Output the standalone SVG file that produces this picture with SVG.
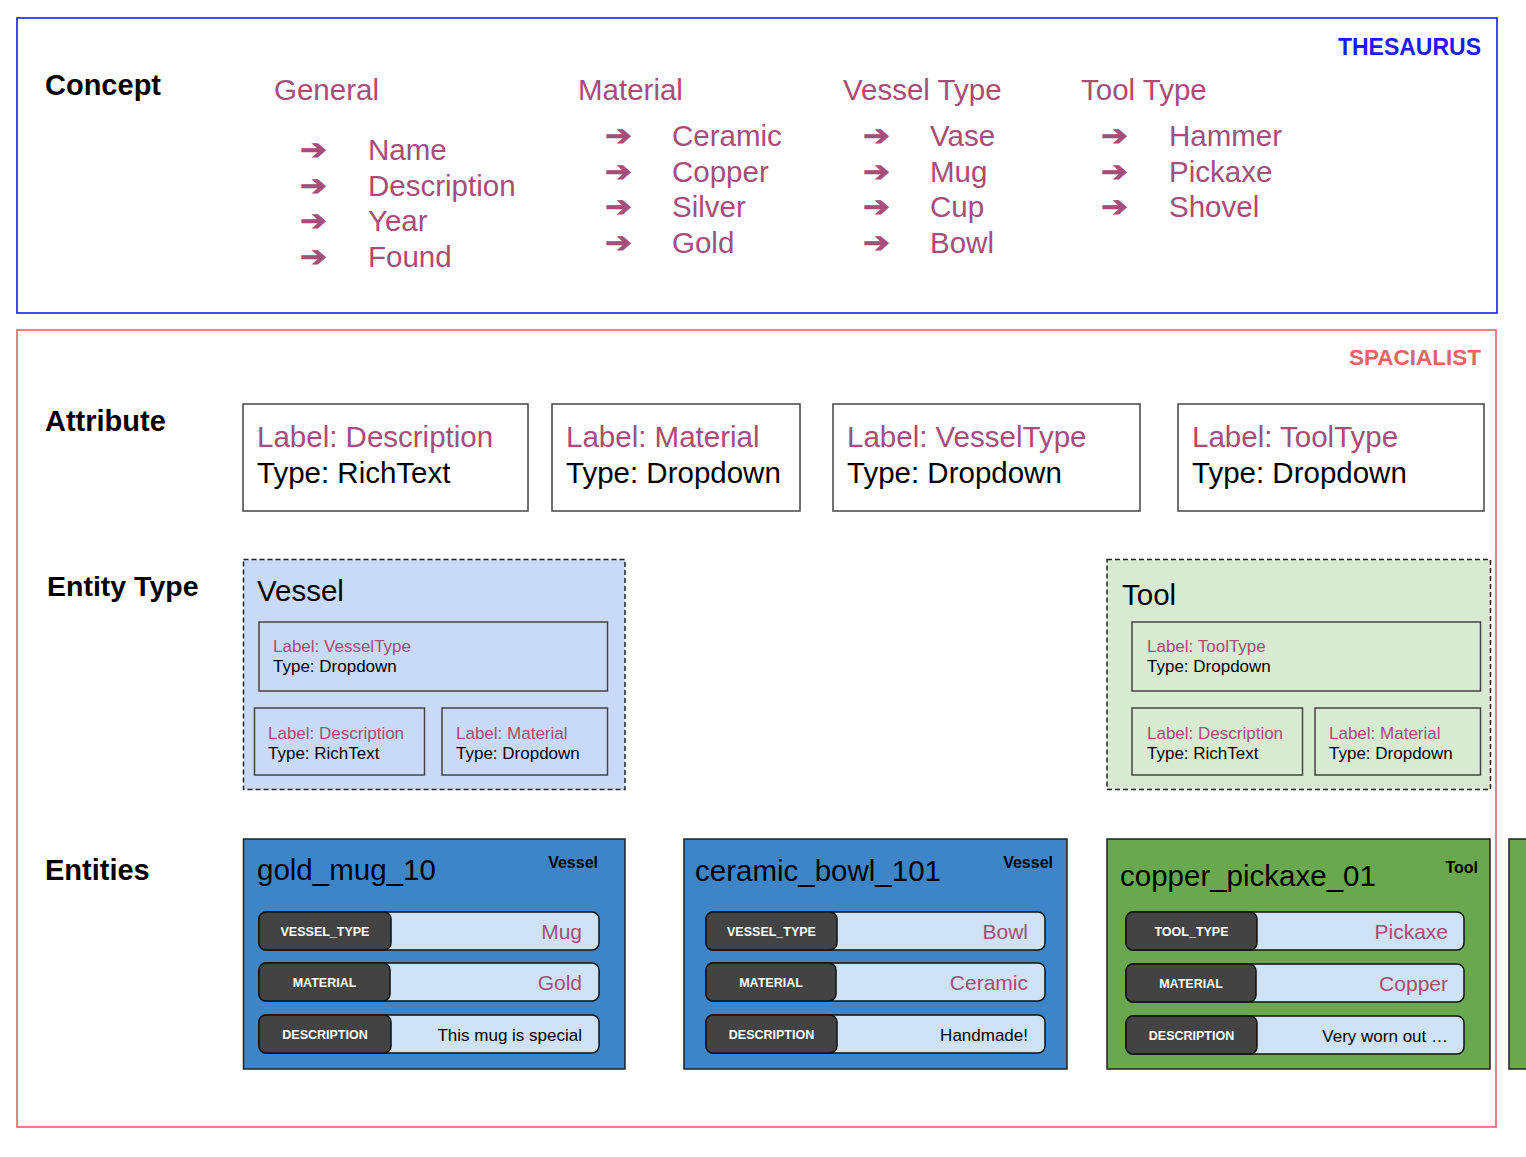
<svg xmlns="http://www.w3.org/2000/svg" width="1526" height="1157" viewBox="0 0 1526 1157">
<style>
text{font-family:"Liberation Sans",Arial,sans-serif}
.hd{font-size:29px;font-weight:bold;fill:#000}
.mg{fill:#a64d79}
.big{font-size:29.5px}
.arr{font-family:"DejaVu Sans",sans-serif;font-size:28px;font-weight:bold;fill:#a64d79;stroke:#a64d79;stroke-width:0.8}
.attr{fill:#fff;stroke:#444;stroke-width:1.5}
.inner{fill:none;stroke:#444;stroke-width:1.5}
.sm{font-size:17px}
.ent{stroke:#222;stroke-width:1.5}
.rowL{fill:#cfe2f3;stroke:#111;stroke-width:1.5}
.rowD{fill:#434343;stroke:#111;stroke-width:1.5}
.lab{font-size:12.5px;font-weight:bold;fill:#fff;text-anchor:middle}
.val{font-size:21px;fill:#a64d79;text-anchor:end}
.dsc{font-size:17px;fill:#000;text-anchor:end}
.etitle{font-size:29.5px;fill:#000}
.etype{font-size:16px;font-weight:bold;fill:#000;text-anchor:end}
</style>
<rect width="1526" height="1157" fill="#fff"/>

<g id="thesaurus">
<rect x="17" y="18" width="1480" height="295" fill="none" stroke="#1a1aff" stroke-width="1.6"/>
<text x="1481" y="55" text-anchor="end" style="font-size:23px;font-weight:bold;fill:#1a1aff">THESAURUS</text>
<text x="45" y="95" class="hd">Concept</text>
</g>

<g id="concept-general">
<text x="274" y="100" class="big mg">General</text>
<text x="300" y="159" class="arr" textLength="27" lengthAdjust="spacingAndGlyphs">➔</text><text x="368" y="160" class="big mg">Name</text>
<text x="300" y="195" class="arr" textLength="27" lengthAdjust="spacingAndGlyphs">➔</text><text x="368" y="195.5" class="big mg">Description</text>
<text x="300" y="230" class="arr" textLength="27" lengthAdjust="spacingAndGlyphs">➔</text><text x="368" y="231" class="big mg">Year</text>
<text x="300" y="266" class="arr" textLength="27" lengthAdjust="spacingAndGlyphs">➔</text><text x="368" y="266.5" class="big mg">Found</text>
</g>
<g id="concept-material">
<text x="578" y="100" class="big mg">Material</text>
<text x="605" y="145" class="arr" textLength="27" lengthAdjust="spacingAndGlyphs">➔</text><text x="672" y="146" class="big mg">Ceramic</text>
<text x="605" y="181" class="arr" textLength="27" lengthAdjust="spacingAndGlyphs">➔</text><text x="672" y="181.5" class="big mg">Copper</text>
<text x="605" y="216" class="arr" textLength="27" lengthAdjust="spacingAndGlyphs">➔</text><text x="672" y="217" class="big mg">Silver</text>
<text x="605" y="252" class="arr" textLength="27" lengthAdjust="spacingAndGlyphs">➔</text><text x="672" y="252.5" class="big mg">Gold</text>
</g>
<g id="concept-vesseltype">
<text x="843" y="100" class="big mg">Vessel Type</text>
<text x="863" y="145" class="arr" textLength="27" lengthAdjust="spacingAndGlyphs">➔</text><text x="930" y="146" class="big mg">Vase</text>
<text x="863" y="181" class="arr" textLength="27" lengthAdjust="spacingAndGlyphs">➔</text><text x="930" y="181.5" class="big mg">Mug</text>
<text x="863" y="216" class="arr" textLength="27" lengthAdjust="spacingAndGlyphs">➔</text><text x="930" y="217" class="big mg">Cup</text>
<text x="863" y="252" class="arr" textLength="27" lengthAdjust="spacingAndGlyphs">➔</text><text x="930" y="252.5" class="big mg">Bowl</text>
</g>
<g id="concept-tooltype">
<text x="1081" y="100" class="big mg">Tool Type</text>
<text x="1101" y="145" class="arr" textLength="27" lengthAdjust="spacingAndGlyphs">➔</text><text x="1169" y="146" class="big mg">Hammer</text>
<text x="1101" y="181" class="arr" textLength="27" lengthAdjust="spacingAndGlyphs">➔</text><text x="1169" y="181.5" class="big mg">Pickaxe</text>
<text x="1101" y="216" class="arr" textLength="27" lengthAdjust="spacingAndGlyphs">➔</text><text x="1169" y="217" class="big mg">Shovel</text>
</g>

<g id="spacialist">
<rect x="17" y="330" width="1479" height="797" fill="none" stroke="#e06666" stroke-width="1.6"/>
<text x="1481" y="365" text-anchor="end" style="font-size:22.5px;font-weight:bold;fill:#e06666">SPACIALIST</text>
<text x="45" y="431" class="hd">Attribute</text>
<text x="47" y="596" class="hd" style="font-size:28.5px">Entity Type</text>
<text x="45" y="880" class="hd">Entities</text>
</g>

<g id="attr-description">
<rect x="243" y="404" width="285" height="107" class="attr"/>
<text x="257" y="447" class="big mg">Label: Description</text>
<text x="257" y="483" class="big">Type: RichText</text>
</g>
<g id="attr-material">
<rect x="552" y="404" width="248" height="107" class="attr"/>
<text x="566" y="447" class="big mg">Label: Material</text>
<text x="566" y="483" class="big">Type: Dropdown</text>
</g>
<g id="attr-vesseltype">
<rect x="833" y="404" width="307" height="107" class="attr"/>
<text x="847" y="447" class="big mg">Label: VesselType</text>
<text x="847" y="483" class="big">Type: Dropdown</text>
</g>
<g id="attr-tooltype">
<rect x="1178" y="404" width="306" height="107" class="attr"/>
<text x="1192" y="447" class="big mg">Label: ToolType</text>
<text x="1192" y="483" class="big">Type: Dropdown</text>
</g>

<g id="etype-vessel">
<rect x="243.5" y="559.5" width="381.5" height="230" fill="#c9daf8" stroke="#222" stroke-width="1.5" stroke-dasharray="5,3"/>
<text x="257" y="601" class="big">Vessel</text>
<rect x="259" y="622" width="348.5" height="69" class="inner"/>
<text x="273" y="652" class="sm mg">Label: VesselType</text>
<text x="273" y="672" class="sm">Type: Dropdown</text>
<rect x="254.5" y="708" width="170" height="67" class="inner"/>
<text x="268" y="739" class="sm mg">Label: Description</text>
<text x="268" y="759" class="sm">Type: RichText</text>
<rect x="442" y="708" width="165.5" height="67" class="inner"/>
<text x="456" y="739" class="sm mg">Label: Material</text>
<text x="456" y="759" class="sm">Type: Dropdown</text>
</g>

<g id="etype-tool">
<rect x="1107" y="559.5" width="383.5" height="230" fill="#d9ead3" stroke="#222" stroke-width="1.5" stroke-dasharray="5,3"/>
<text x="1122" y="605" class="big">Tool</text>
<rect x="1132" y="622" width="348.5" height="69" class="inner"/>
<text x="1147" y="652" class="sm mg">Label: ToolType</text>
<text x="1147" y="672" class="sm">Type: Dropdown</text>
<rect x="1132" y="708" width="170.5" height="67" class="inner"/>
<text x="1147" y="739" class="sm mg">Label: Description</text>
<text x="1147" y="759" class="sm">Type: RichText</text>
<rect x="1315" y="708" width="165.5" height="67" class="inner"/>
<text x="1329" y="739" class="sm mg">Label: Material</text>
<text x="1329" y="759" class="sm">Type: Dropdown</text>
</g>

<g id="entity-gold_mug_10">
<rect x="243.5" y="839" width="381.5" height="230" fill="#3d85c6" class="ent"/>
<text x="257" y="880" class="etitle">gold_mug_10</text>
<text x="598" y="868" class="etype">Vessel</text>
<rect x="259" y="912" width="340" height="38" rx="7" class="rowL"/>
<rect x="259" y="912" width="132" height="38" rx="7" class="rowD"/>
<text x="325" y="935.5" class="lab">VESSEL_TYPE</text>
<text x="582" y="939" class="val">Mug</text>
<rect x="259" y="963" width="340" height="38" rx="7" class="rowL"/>
<rect x="259" y="963" width="131" height="38" rx="7" class="rowD"/>
<text x="324.5" y="986.5" class="lab">MATERIAL</text>
<text x="582" y="990" class="val">Gold</text>
<rect x="259" y="1015" width="340" height="38" rx="7" class="rowL"/>
<rect x="259" y="1015" width="132" height="38" rx="7" class="rowD"/>
<text x="325" y="1038.5" class="lab">DESCRIPTION</text>
<text x="582" y="1040.5" class="dsc">This mug is special</text>
</g>

<g id="entity-ceramic_bowl_101">
<rect x="684" y="839" width="383" height="230" fill="#3d85c6" class="ent"/>
<text x="695" y="881" class="etitle">ceramic_bowl_101</text>
<text x="1053" y="868" class="etype">Vessel</text>
<rect x="706" y="912" width="339" height="38" rx="7" class="rowL"/>
<rect x="706" y="912" width="131" height="38" rx="7" class="rowD"/>
<text x="771.5" y="935.5" class="lab">VESSEL_TYPE</text>
<text x="1028" y="939" class="val">Bowl</text>
<rect x="706" y="963" width="339" height="38" rx="7" class="rowL"/>
<rect x="706" y="963" width="130" height="38" rx="7" class="rowD"/>
<text x="771" y="986.5" class="lab">MATERIAL</text>
<text x="1028" y="990" class="val">Ceramic</text>
<rect x="706" y="1015" width="339" height="38" rx="7" class="rowL"/>
<rect x="706" y="1015" width="131" height="38" rx="7" class="rowD"/>
<text x="771.5" y="1038.5" class="lab">DESCRIPTION</text>
<text x="1028" y="1040.5" class="dsc">Handmade!</text>
</g>

<g id="entity-copper_pickaxe_01">
<rect x="1107" y="839" width="383" height="230" fill="#6aa84f" class="ent"/>
<text x="1120" y="886" class="etitle">copper_pickaxe_01</text>
<text x="1478" y="873" class="etype">Tool</text>
<rect x="1126" y="912" width="338" height="38" rx="7" class="rowL"/>
<rect x="1126" y="912" width="131" height="38" rx="7" class="rowD"/>
<text x="1191.5" y="935.5" class="lab">TOOL_TYPE</text>
<text x="1448" y="939" class="val">Pickaxe</text>
<rect x="1126" y="964" width="338" height="38" rx="7" class="rowL"/>
<rect x="1126" y="964" width="130" height="38" rx="7" class="rowD"/>
<text x="1191" y="987.5" class="lab">MATERIAL</text>
<text x="1448" y="991" class="val">Copper</text>
<rect x="1126" y="1016" width="338" height="38" rx="7" class="rowL"/>
<rect x="1126" y="1016" width="131" height="38" rx="7" class="rowD"/>
<text x="1191.5" y="1039.5" class="lab">DESCRIPTION</text>
<text x="1448" y="1041.5" class="dsc">Very worn out …</text>
</g>

<g id="entity-partial">
<rect x="1509" y="839" width="30" height="230" fill="#6aa84f" class="ent"/>
</g>

<g id="connectors"></g>
</svg>
